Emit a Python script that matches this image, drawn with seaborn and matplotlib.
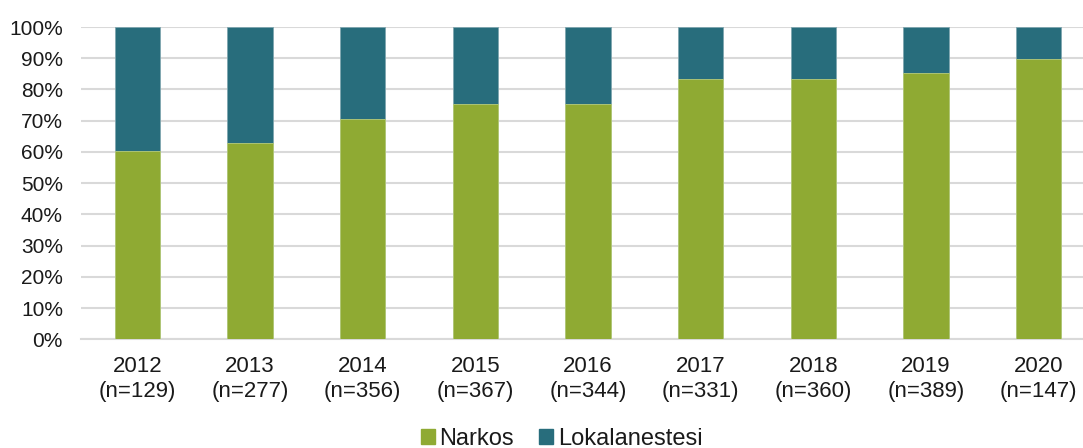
import seaborn as sns
import pandas as pd
import matplotlib.pyplot as plt
from matplotlib.patches import Patch

years = ["2012", "2013", "2014", "2015", "2016", "2017", "2018", "2019", "2020"]
n_counts = [129, 277, 356, 367, 344, 331, 360, 389, 147]
narkos = [60.4, 62.7, 70.7, 75.3, 75.5, 83.3, 83.3, 85.3, 89.8]
lokal = [39.6, 37.3, 29.3, 24.7, 24.5, 16.7, 16.7, 14.7, 10.2]

green = "#8FAA33"
teal = "#286D7C"

labels = [f"{y}\n(n={n})" for y, n in zip(years, n_counts)]
df = pd.DataFrame({"label": labels, "Narkos": narkos, "Lokalanestesi": lokal})
df["total"] = df["Narkos"] + df["Lokalanestesi"]

sns.set_style("white")
plt.rcParams["font.family"] = ["Liberation Sans", "DejaVu Sans"]

fig = plt.figure(figsize=(10.83, 4.48), dpi=100)
ax = fig.add_axes([81 / 1083, 108.7 / 448, 1014 / 1083, 312.3 / 448])

# stacked: full bar in teal, narkos drawn over it in green
sns.barplot(data=df, x="label", y="total", color=teal, saturation=1, width=0.4,
            edgecolor="#7FA6AF", linewidth=0.6, ax=ax, zorder=3)
sns.barplot(data=df, x="label", y="Narkos", color=green, saturation=1, width=0.4,
            edgecolor="#B8CC7A", linewidth=0.6, ax=ax, zorder=4)

ax.set_ylim(0, 100)
ax.set_yticks(range(0, 101, 10))
ax.set_yticklabels([f"{v}%" for v in range(0, 101, 10)])
ax.set_xlim(-0.5, len(years) - 0.5)
ax.grid(axis="y", color="#D9D9D9", linewidth=1.5, zorder=0)
for s in ["top", "right", "left"]:
    ax.spines[s].set_visible(False)
ax.spines["bottom"].set_color("#D9D9D9")
ax.spines["bottom"].set_linewidth(1.5)
ax.set_xlabel("")
ax.set_ylabel("")
ax.tick_params(axis="both", length=0, colors="#1A1A1A")
ax.tick_params(axis="y", labelsize=15, pad=13)
ax.tick_params(axis="x", labelsize=16, pad=12)
for t in ax.get_xticklabels():
    t.set_linespacing(1.25)

handles = [Patch(color=green, label="Narkos"), Patch(color=teal, label="Lokalanestesi")]
fig.legend(handles=handles, loc="center", bbox_to_anchor=(561.5 / 1083, 1 - 438.5 / 448),
           ncol=2, frameon=False, fontsize=17, handlelength=0.6, handleheight=0.6,
           handletextpad=0.2, columnspacing=1.05, labelcolor="#1A1A1A",
           borderpad=0, borderaxespad=0)

plt.savefig("out.png", dpi=100)
